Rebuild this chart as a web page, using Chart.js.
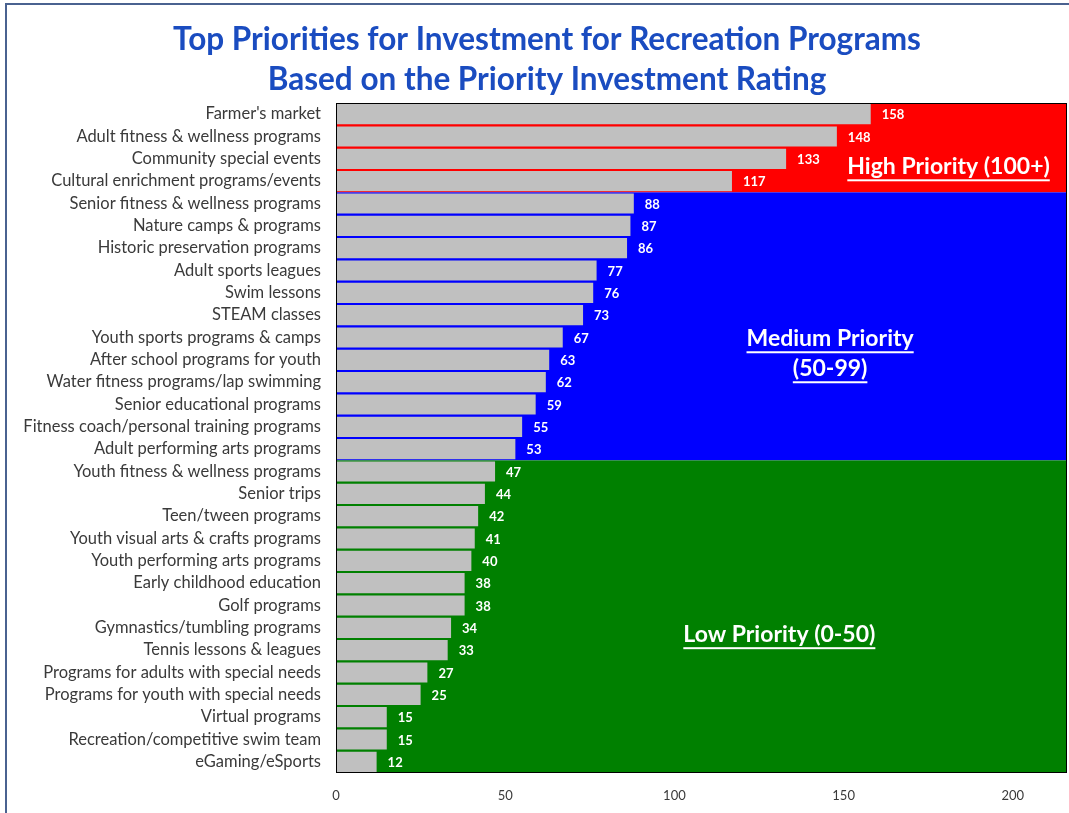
<!DOCTYPE html>
<html>
<head>
<meta charset="utf-8">
<script src="https://cdn.jsdelivr.net/npm/chart.js@4.4.1/dist/chart.umd.min.js"></script>
<style>
  html, body { margin: 0; padding: 0; background: #ffffff; }
  #wrap { width: 1069px; height: 813px; position: relative; }
</style>
</head>
<body>
<div id="wrap"><canvas id="chart" width="1069" height="813"></canvas></div>
<script>
// Programs ranked by Priority Investment Rating
const programs = [
  "Farmer's market",
  "Adult fitness & wellness programs",
  "Community special events",
  "Cultural enrichment programs/events",
  "Senior fitness & wellness programs",
  "Nature camps & programs",
  "Historic preservation programs",
  "Adult sports leagues",
  "Swim lessons",
  "STEAM classes",
  "Youth sports programs & camps",
  "After school programs for youth",
  "Water fitness programs/lap swimming",
  "Senior educational programs",
  "Fitness coach/personal training programs",
  "Adult performing arts programs",
  "Youth fitness & wellness programs",
  "Senior trips",
  "Teen/tween programs",
  "Youth visual arts & crafts programs",
  "Youth performing arts programs",
  "Early childhood education",
  "Golf programs",
  "Gymnastics/tumbling programs",
  "Tennis lessons & leagues",
  "Programs for adults with special needs",
  "Programs for youth with special needs",
  "Virtual programs",
  "Recreation/competitive swim team",
  "eGaming/eSports"
];
const ratings = [158, 148, 133, 117, 88, 87, 86, 77, 76, 73, 67, 63, 62, 59, 55, 53,
                 47, 44, 42, 41, 40, 38, 38, 34, 33, 27, 25, 15, 15, 12];
const xTicks = [0, 50, 100, 150, 200];

// Priority bands: first and last program index in each band
const bandNames = ["High Priority (100+)", "Medium Priority|(50-99)", "Low Priority (0-50)"];
const bandFirst = [0, 4, 16];
const bandLast  = [3, 15, 29];

const titleLines = [
  "Top Priorities for Investment for Recreation Programs",
  "Based on the Priority Investment Rating"
];

const FONT = "Lato, 'Open Sans', sans-serif";
const bandColors = ["#ff0000", "#0000ff", "#008000"];
// where each band caption sits, in scale units (x value, category position)
const bandCaptionPos = [
  { x: 181, y: 2.35, size: 23 },
  { x: 146, y: 10.05, size: 23 },
  { x: 131, y: 23.3, size: 23 }
];

const bandsPlugin = {
  id: 'bands',
  beforeDatasetsDraw(chart) {
    const { ctx, chartArea, scales } = chart;
    const y = scales.y;
    const step = y.getPixelForValue(1) - y.getPixelForValue(0);
    ctx.save();
    bandFirst.forEach((first, i) => {
      const top = Math.max(chartArea.top, y.getPixelForValue(first) - step / 2);
      const bottom = Math.min(chartArea.bottom, y.getPixelForValue(bandLast[i]) + step / 2);
      ctx.fillStyle = bandColors[i];
      ctx.fillRect(chartArea.left, top, chartArea.right - chartArea.left, bottom - top);
    });
    ctx.restore();
  },
  afterDatasetsDraw(chart) {
    const { ctx, chartArea, scales } = chart;
    const meta = chart.getDatasetMeta(0);
    ctx.save();
    // value labels after each bar
    ctx.fillStyle = "#ffffff";
    ctx.font = "bold 13px " + FONT;
    ctx.textAlign = "left";
    ctx.textBaseline = "middle";
    meta.data.forEach((bar, i) => {
      ctx.fillText(String(ratings[i]), bar.x + 11, bar.y + 1);
    });
    // band captions, underlined
    bandNames.forEach((name, i) => {
      const pos = bandCaptionPos[i];
      const cx = scales.x.getPixelForValue(pos.x);
      const lines = name.split("|");
      const lh = 30;
      const cy0 = scales.y.getPixelForValue(pos.y);
      ctx.font = "bold " + pos.size + "px " + FONT;
      ctx.textAlign = "center";
      ctx.textBaseline = "middle";
      lines.forEach((ln, k) => {
        const cy = cy0 + k * lh;
        ctx.fillStyle = "#ffffff";
        ctx.fillText(ln, cx, cy);
        const w = ctx.measureText(ln).width;
        ctx.fillRect(cx - w / 2, cy + pos.size * 0.55, w, 2);
      });
    });
    // plot frame
    ctx.strokeStyle = "#000000";
    ctx.lineWidth = 1;
    ctx.strokeRect(chartArea.left + 0.5, chartArea.top + 0.5,
                   chartArea.right - chartArea.left - 1, chartArea.bottom - chartArea.top - 1);
    ctx.restore();
  },
  afterDraw(chart) {
    const { ctx } = chart;
    ctx.save();
    // page frame
    ctx.strokeStyle = "#4a6290";
    ctx.lineWidth = 2;
    ctx.beginPath();
    ctx.moveTo(6, 813);
    ctx.lineTo(6, 4);
    ctx.lineTo(1069, 4);
    ctx.stroke();
    // title
    ctx.fillStyle = "#1a4cc0";
    ctx.font = "bold 31.5px " + FONT;
    ctx.textAlign = "center";
    ctx.textBaseline = "middle";
    titleLines.forEach((t, i) => ctx.fillText(t, 547, 40 + i * 40));
    ctx.restore();
  }
};

new Chart(document.getElementById("chart"), {
  type: "bar",
  data: {
    labels: programs,
    datasets: [{
      data: ratings,
      backgroundColor: "#c0c0c0",
      borderWidth: 0,
      barPercentage: 0.9,
      categoryPercentage: 1.0
    }]
  },
  options: {
    indexAxis: "y",
    responsive: false,
    animation: false,
    layout: { padding: { top: 103, right: 2, left: 0, bottom: 0 } },
    plugins: { legend: { display: false }, tooltip: { enabled: false }, title: { display: false } },
    scales: {
      x: {
        min: 0,
        max: 216,
        afterBuildTicks(scale) { scale.ticks = xTicks.map(v => ({ value: v })); },
        grid: { display: false, drawTicks: false },
        border: { display: false },
        ticks: { color: "#3a3a3a", font: { family: FONT, size: 13 }, padding: 15 },
        afterFit(scale) { scale.height = 40; }
      },
      y: {
        grid: { display: false, drawTicks: false },
        border: { display: false },
        ticks: { color: "#3a3a3a", font: { family: FONT, size: 16.5 }, padding: 15, autoSkip: false },
        afterFit(scale) { scale.width = 336; }
      }
    }
  },
  plugins: [bandsPlugin]
});
</script>
</body>
</html>
